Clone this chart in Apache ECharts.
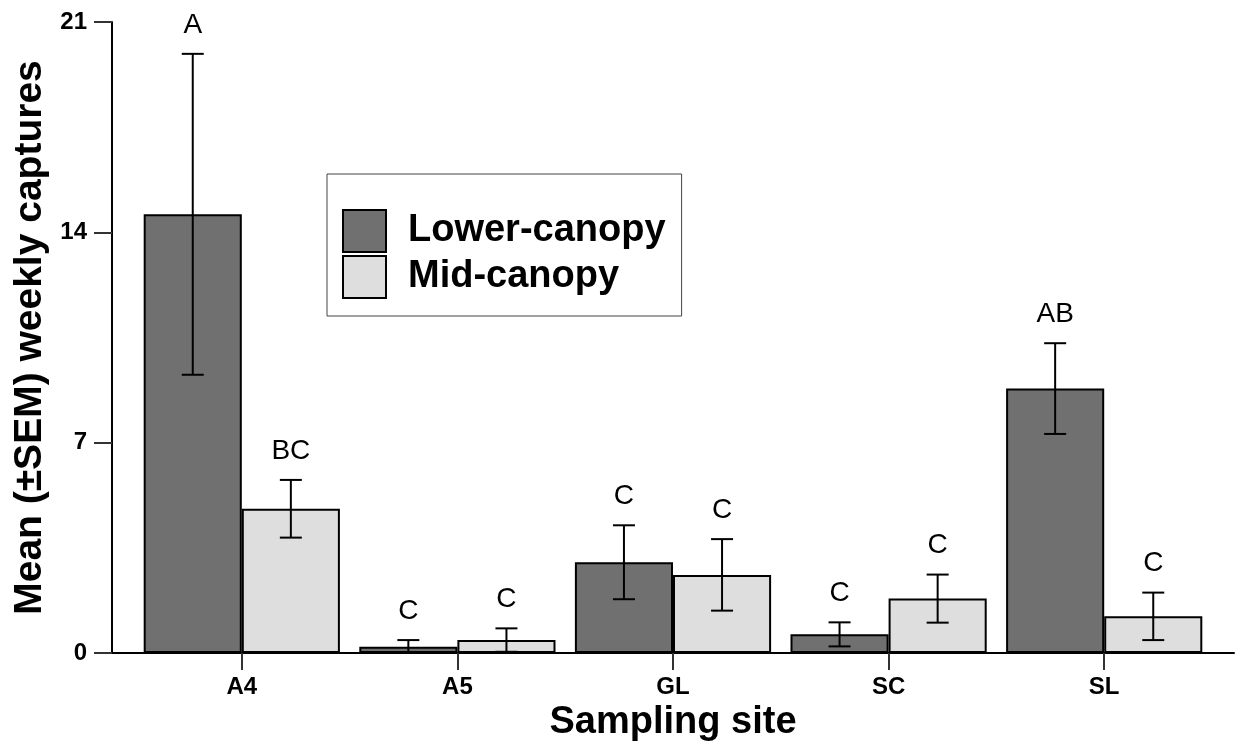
<!DOCTYPE html>
<html>
<head>
<meta charset="utf-8">
<script src="https://cdn.jsdelivr.net/npm/echarts@6/dist/echarts.min.js"></script>
<style>html,body{margin:0;padding:0;background:#fff}#c{width:1238px;height:751px}</style>
</head>
<body>
<div id="c"></div>
<script>
const categories = ['A4', 'A5', 'GL', 'SC', 'SL'];
const lowerMean = [14.6, 0.21, 3.02, 0.62, 8.8];
const lowerSem = [5.34, 0.22, 1.23, 0.4, 1.51];
const midMean = [4.8, 0.43, 2.6, 1.81, 1.22];
const midSem = [0.96, 0.39, 1.19, 0.8, 0.79];
const lowerLetters = ['A', 'C', 'C', 'C', 'AB'];
const midLetters = ['BC', 'C', 'C', 'C', 'C'];
const yTicks = [0, 7, 14, 21];

const FONT = '"Liberation Sans", Arial, sans-serif';
const GAP = 0.09;

const errData = [];
categories.forEach((c, i) => {
  errData.push([i, lowerMean[i] - lowerSem[i], lowerMean[i] + lowerSem[i], 0]);
  errData.push([i, midMean[i] - midSem[i], midMean[i] + midSem[i], 1]);
});

function renderErr(params, api) {
  const ci = api.value(0), lo = api.value(1), hi = api.value(2), side = api.value(3);
  const c = api.coord([ci, 0]);
  const bw = api.size([1, 0])[0];
  const barW = bw * (1 - GAP) / 2;
  const x = c[0] + (side === 0 ? -barW / 2 : barW / 2);
  const yHi = api.coord([ci, hi])[1];
  const yLo = api.coord([ci, Math.max(lo, 0)])[1];
  const cap = 11;
  const letter = side === 0 ? lowerLetters[ci] : midLetters[ci];
  const st = { stroke: '#000', lineWidth: 2 };
  return {
    type: 'group',
    children: [
      { type: 'line', shape: { x1: x, y1: yHi, x2: x, y2: yLo }, style: st },
      { type: 'line', shape: { x1: x - cap, y1: yHi, x2: x + cap, y2: yHi }, style: st },
      { type: 'line', shape: { x1: x - cap, y1: yLo, x2: x + cap, y2: yLo }, style: st },
      { type: 'text', style: { text: letter, x: x, y: yHi - 15, align: 'center', verticalAlign: 'bottom',
        font: '28px ' + FONT, fill: '#000' } }
    ]
  };
}

const chart = echarts.init(document.getElementById('c'), null, { renderer: 'canvas' });
chart.setOption({
  animation: false,
  backgroundColor: '#fff',
  textStyle: { fontFamily: FONT },
  grid: [
    { left: 134, right: 26, top: 22, bottom: 98 },
    { left: 112, right: 4, top: 22, bottom: 98 }
  ],
  legend: {
    orient: 'vertical',
    left: 327, top: 174,
    padding: [35, 16, 17, 15],
    itemWidth: 43, itemHeight: 42, itemGap: 2,
    borderColor: '#444', borderWidth: 1,
    icon: 'rect',
    textStyle: { fontSize: 38, fontWeight: 'bold', color: '#000', fontFamily: FONT, padding: [0, 0, 0, 17], lineHeight: 42 },
    data: ['Lower-canopy', 'Mid-canopy']
  },
  xAxis: [
    {
      type: 'category', gridIndex: 0, data: categories,
      axisLine: { show: false },
      axisTick: { show: true, alignWithLabel: true, length: 17, lineStyle: { color: '#333', width: 2 } },
      axisLabel: { fontSize: 24, fontWeight: 'bold', color: '#000', margin: 22, fontFamily: FONT },
      name: 'Sampling site', nameLocation: 'middle', nameGap: 50,
      nameTextStyle: { fontSize: 38, fontWeight: 'bold', color: '#000', fontFamily: FONT, verticalAlign: 'top' }
    },
    {
      type: 'value', gridIndex: 1, min: 0, max: 1,
      axisLine: { show: true, onZero: false, lineStyle: { color: '#000', width: 2 } },
      axisTick: { show: false }, axisLabel: { show: false }, splitLine: { show: false }
    }
  ],
  yAxis: [
    {
      type: 'value', gridIndex: 0, min: 0, max: 21, interval: 7, offset: 22,
      axisLine: { show: true, lineStyle: { color: '#000', width: 2 } },
      axisTick: { show: true, length: 18, lineStyle: { color: '#333', width: 2 } },
      axisLabel: { fontSize: 24, fontWeight: 'bold', color: '#000', margin: 25, fontFamily: FONT,
        customValues: yTicks },
      splitLine: { show: false },
      name: 'Mean (\u00b1SEM) weekly captures', nameLocation: 'middle', nameGap: 62,
      nameTextStyle: { fontSize: 39, fontWeight: 'bold', color: '#000', fontFamily: FONT }
    },
    { type: 'value', gridIndex: 1, show: false, min: 0, max: 1 }
  ],
  series: [
    {
      name: 'Lower-canopy', type: 'bar', xAxisIndex: 0, yAxisIndex: 0,
      data: lowerMean, barGap: '0%', barCategoryGap: (GAP * 100) + '%',
      itemStyle: { color: '#707070', borderColor: '#000', borderWidth: 2 }
    },
    {
      name: 'Mid-canopy', type: 'bar', xAxisIndex: 0, yAxisIndex: 0,
      data: midMean, barGap: '0%', barCategoryGap: (GAP * 100) + '%',
      itemStyle: { color: '#dedede', borderColor: '#000', borderWidth: 2 }
    },
    {
      type: 'custom', xAxisIndex: 0, yAxisIndex: 0, renderItem: renderErr,
      data: errData, encode: { x: 0, y: [1, 2] }, z: 5, clip: false
    }
  ]
});
</script>
</body>
</html>
